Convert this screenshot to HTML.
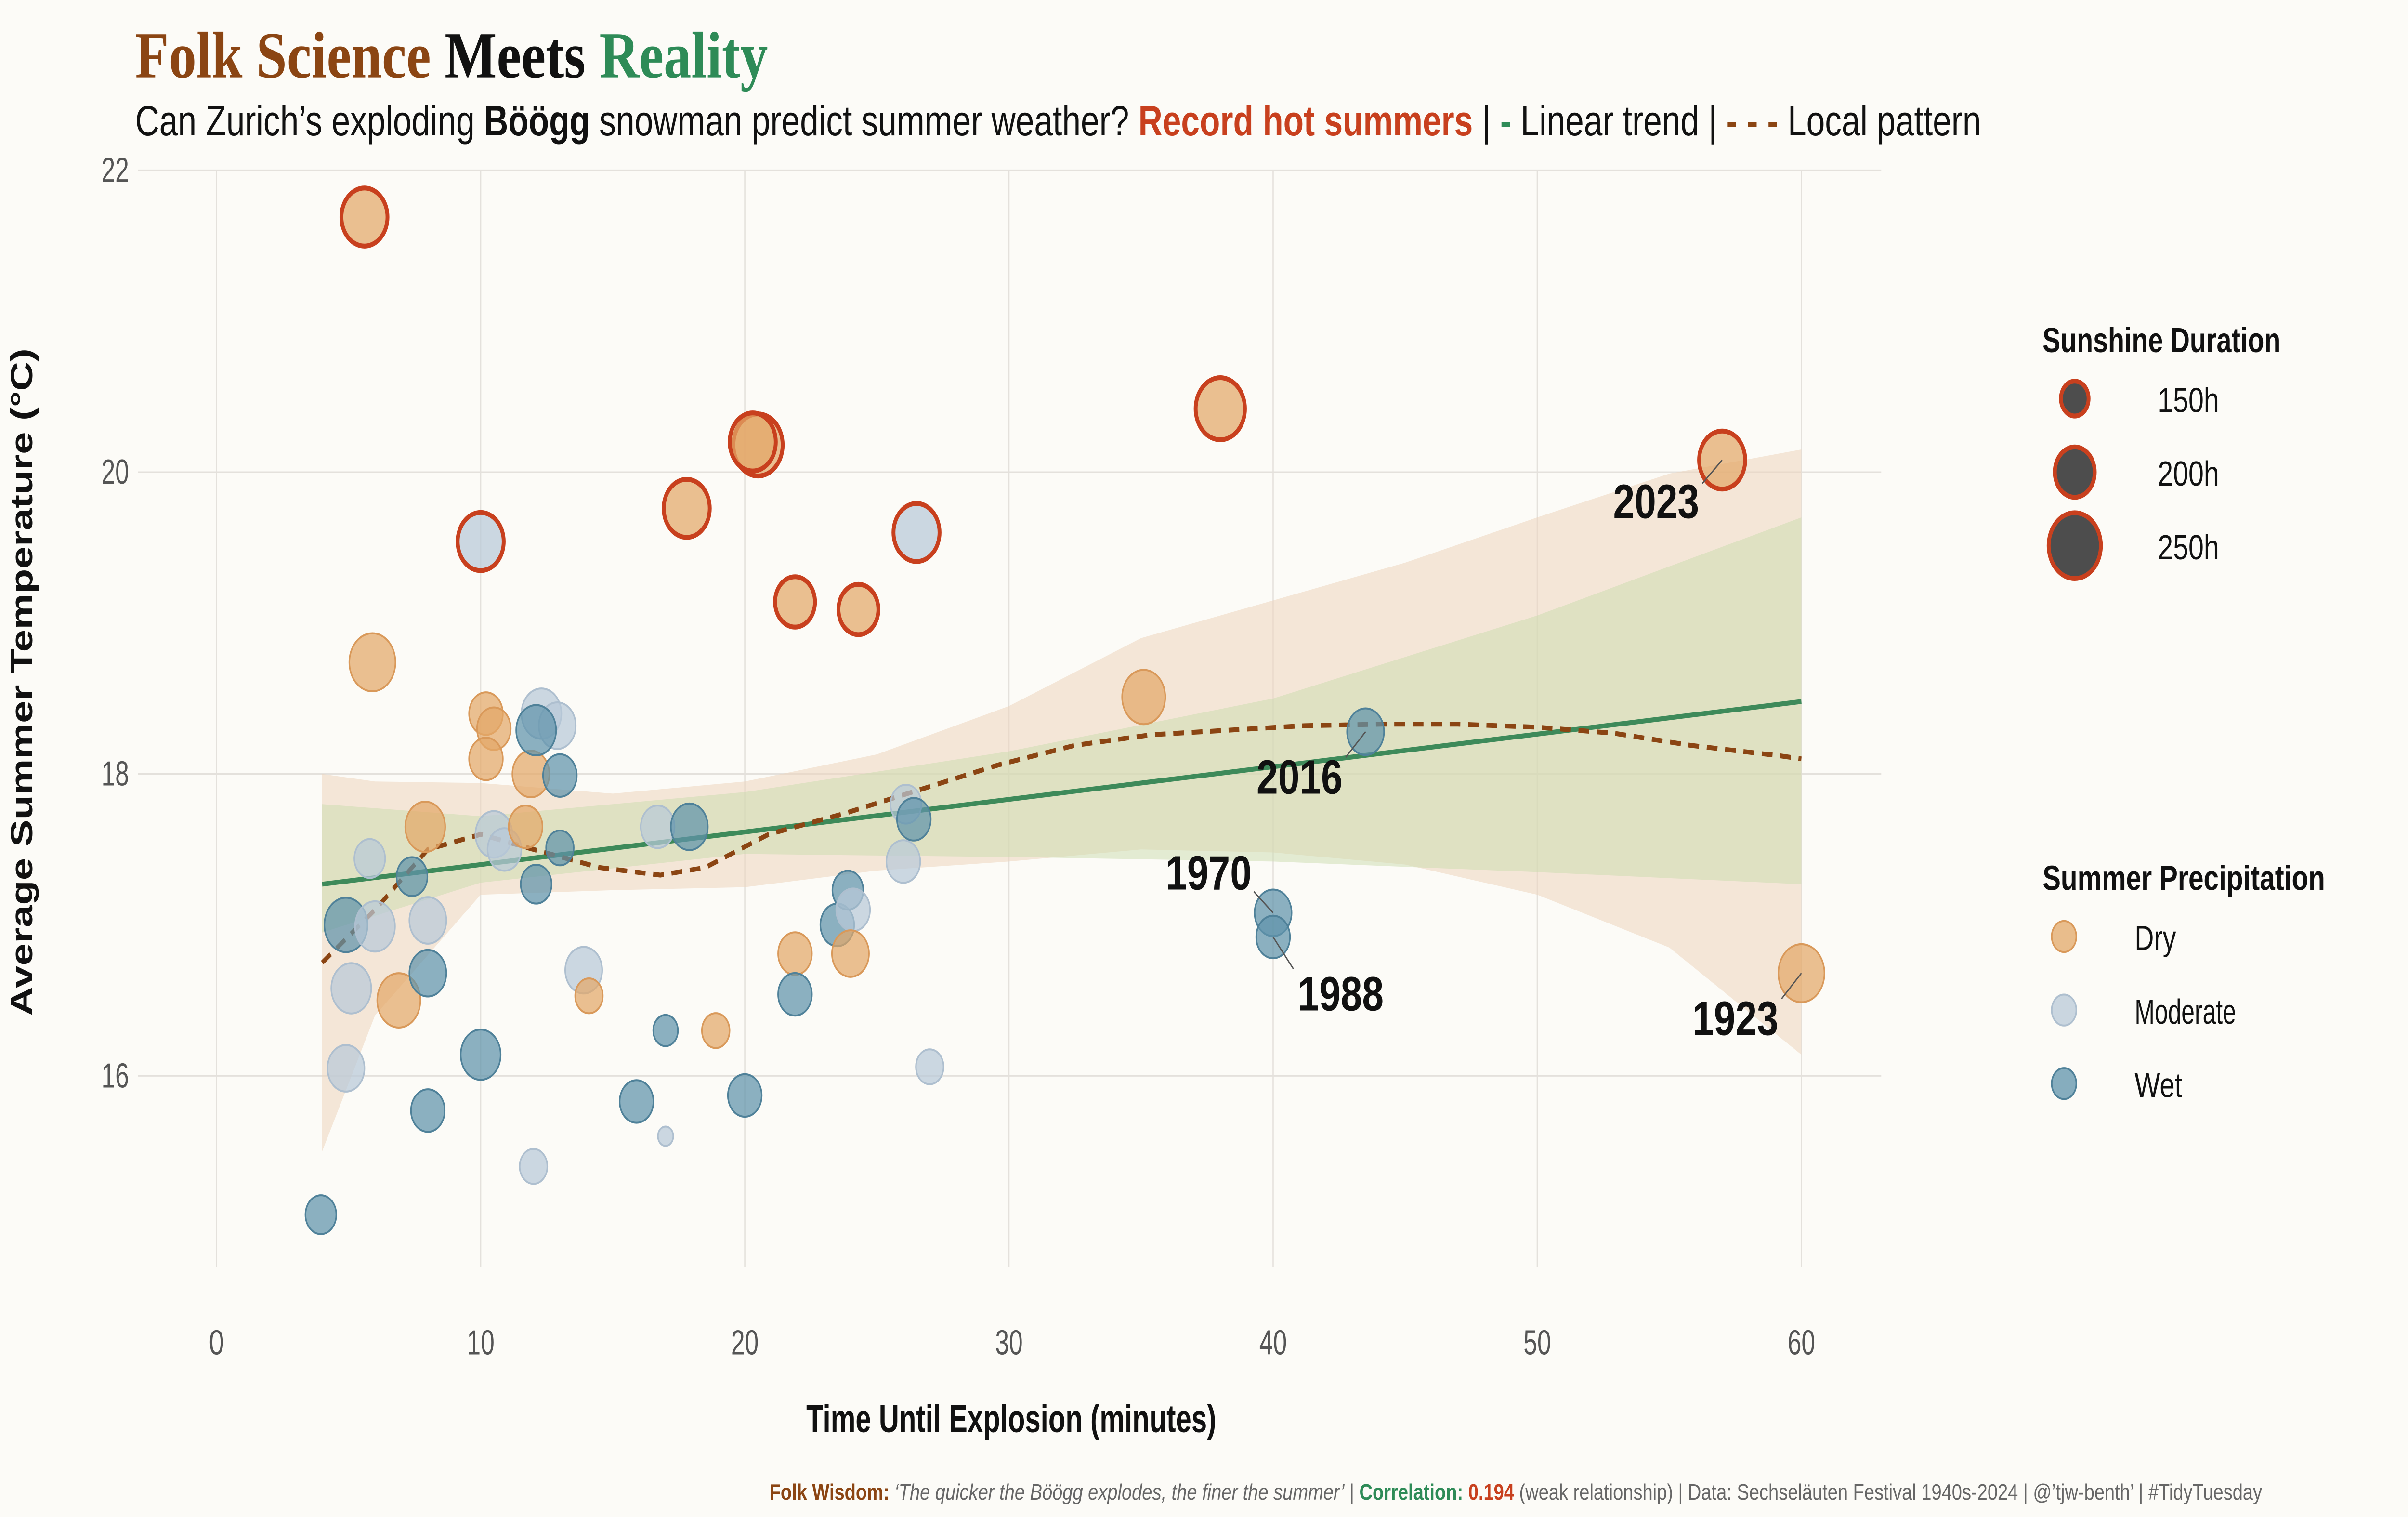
<!DOCTYPE html>
<html><head><meta charset="utf-8">
<style>
html,body{margin:0;padding:0;background:#fcfbf7;width:100vw;height:100vh;overflow:hidden;}
svg{display:block;width:100vw;height:100vh;}
text{font-family:"Liberation Sans Narrow","Liberation Sans",sans-serif;}
</style></head>
<body>
<svg id="chart" xmlns="http://www.w3.org/2000/svg" width="100%" height="100%" viewBox="0 0 1568 784" preserveAspectRatio="none">
<rect x="0" y="0" width="1568" height="784" fill="#fcfbf7"/>
<text x="88" y="40" font-weight="bold" font-size="34" textLength="412" lengthAdjust="spacingAndGlyphs" style="font-family:'Liberation Serif',serif"><tspan fill="#8b4513">Folk Science</tspan><tspan fill="#111"> Meets </tspan><tspan fill="#2e8b57">Reality</tspan></text>
<text x="88" y="70" font-size="22" fill="#111" textLength="1202" lengthAdjust="spacingAndGlyphs">Can Zurich’s exploding <tspan font-weight="bold">Böögg</tspan> snowman predict summer weather? <tspan font-weight="bold" fill="#c8401e">Record hot summers</tspan> | <tspan fill="#2e8b57" font-weight="bold">-</tspan> Linear trend | <tspan fill="#8b4513" font-weight="bold">- - -</tspan> Local pattern</text>
<g id="grid"></g>
<g id="bands"></g>
<g id="lines"></g>
<g id="points"></g>
<g id="annots"></g>
<g id="axes"></g>
<text x="525" y="740" font-size="20" font-weight="bold" fill="#111" textLength="267" lengthAdjust="spacingAndGlyphs">Time Until Explosion (minutes)</text>
<text transform="translate(21,525) rotate(-90)" font-size="20" font-weight="bold" fill="#111" textLength="345" lengthAdjust="spacingAndGlyphs">Average Summer Temperature (°C)</text>
<g>
<text x="1330" y="182" font-size="18" font-weight="bold" fill="#111" textLength="155" lengthAdjust="spacingAndGlyphs">Sunshine Duration</text>
<circle cx="1351" cy="206" r="9" fill="#4d4d4d" stroke="#c8401e" stroke-width="2.5"/>
<text x="1405" y="213" font-size="18" fill="#111" textLength="40" lengthAdjust="spacingAndGlyphs">150h</text>
<circle cx="1351" cy="244" r="13" fill="#4d4d4d" stroke="#c8401e" stroke-width="2.5"/>
<text x="1405" y="251" font-size="18" fill="#111" textLength="40" lengthAdjust="spacingAndGlyphs">200h</text>
<circle cx="1351" cy="282" r="17" fill="#4d4d4d" stroke="#c8401e" stroke-width="2.5"/>
<text x="1405" y="289" font-size="18" fill="#111" textLength="40" lengthAdjust="spacingAndGlyphs">250h</text>
</g>
<g>
<text x="1330" y="460" font-size="18" font-weight="bold" fill="#111" textLength="184" lengthAdjust="spacingAndGlyphs">Summer Precipitation</text>
<circle cx="1344" cy="484" r="8" fill="#e3a868" fill-opacity="0.75" stroke="#d9995a"/>
<text x="1390" y="491" font-size="18" fill="#111" textLength="27" lengthAdjust="spacingAndGlyphs">Dry</text>
<circle cx="1344" cy="522" r="8" fill="#b9c9d8" fill-opacity="0.75" stroke="#aebfcf"/>
<text x="1390" y="529" font-size="18" fill="#111" textLength="66" lengthAdjust="spacingAndGlyphs">Moderate</text>
<circle cx="1344" cy="560" r="8" fill="#5f93ab" fill-opacity="0.75" stroke="#4f8199"/>
<text x="1390" y="567" font-size="18" fill="#111" textLength="31" lengthAdjust="spacingAndGlyphs">Wet</text>
</g>
<text x="501" y="775" font-size="11.5" fill="#666" textLength="972" lengthAdjust="spacingAndGlyphs"><tspan fill="#8b4513" font-weight="bold">Folk Wisdom: </tspan> <tspan font-style="italic">‘The quicker the Böögg explodes, the finer the summer’</tspan> | <tspan fill="#2e8b57" font-weight="bold">Correlation: </tspan> <tspan fill="#c8401e" font-weight="bold">0.194</tspan> (weak relationship) | Data: Sechseläuten Festival 1940s-2024 | @’tjw-benth’ | #TidyTuesday</text>
</svg>
<script>
const xTicks=[0,10,20,30,40,50,60];
const yTicks=[16,18,20,22];
const minutes=[5.6,10,17.8,20.5,20.3,21.9,24.3,26.5,38,57,5.9,5.8,4.9,6.0,5.1,4.9,3.95,6.9,7.4,7.9,8.0,8.0,8.0,10,10.2,10.5,10.2,10.5,10.9,11.9,11.7,12.3,12.9,12.1,13,13,12.1,13.9,14.1,12,15.9,17,17,16.7,17.9,18.9,20,21.9,21.9,23.5,23.9,24.1,24,26.1,26.0,26.4,27,35.1,40,40,43.5,60];
const temps=[21.69,19.54,19.76,20.18,20.2,19.14,19.09,19.6,20.42,20.08,18.74,17.44,17.0,16.99,16.58,16.05,15.08,16.5,17.32,17.65,17.03,16.68,15.77,16.14,18.4,18.3,18.1,17.6,17.5,18.0,17.65,18.4,18.32,18.29,17.99,17.51,17.27,16.7,16.53,15.4,15.83,16.3,15.6,17.65,17.65,16.3,15.87,16.81,16.54,17.0,17.23,17.1,16.81,17.8,17.42,17.7,16.06,18.51,17.08,16.92,18.28,16.68];
const sunshine=[225,225,225,238,225,200,200,225,238,225,225,163,213,200,200,188,163,213,163,200,188,188,175,200,175,175,175,188,175,188,175,200,188,200,175,150,163,188,150,150,175,138,100,175,188,150,175,175,175,175,163,175,188,163,175,175,150,213,188,175,188,225];
const precip=["dry","moderate","dry","dry","dry","dry","dry","moderate","dry","dry","dry","moderate","wet","moderate","moderate","moderate","wet","dry","wet","dry","moderate","wet","wet","wet","dry","dry","dry","moderate","moderate","dry","dry","moderate","moderate","wet","wet","wet","wet","moderate","dry","moderate","wet","wet","moderate","moderate","wet","dry","wet","dry","wet","wet","wet","moderate","dry","moderate","moderate","wet","moderate","dry","wet","wet","wet","dry"];
const hot=[1,1,1,1,1,1,1,1,1,1,0,0,0,0,0,0,0,0,0,0,0,0,0,0,0,0,0,0,0,0,0,0,0,0,0,0,0,0,0,0,0,0,0,0,0,0,0,0,0,0,0,0,0,0,0,0,0,0,0,0,0,0];
const trendX=[4,60];
const trendY=[17.27,18.48];
const ciX=[4,10,20,30,40,50,60];
const ciLow=[16.95,17.28,17.47,17.45,17.42,17.35,17.27];
const ciHigh=[17.8,17.72,17.88,18.15,18.5,19.05,19.7];
const loessX=[4,6,8,10,12,14.5,16.8,18.5,20.9,23.8,26.7,29.6,32.5,35.4,38.3,41.2,44.1,47,50,52.9,55.8,59.2,60];
const loessY=[16.75,17.1,17.5,17.6,17.5,17.38,17.33,17.38,17.6,17.74,17.9,18.06,18.19,18.26,18.29,18.32,18.33,18.33,18.31,18.27,18.19,18.12,18.1];
const bandX=[4,6,10,15,20,25,30,35,40,45,50,55,60];
const bandLow=[15.5,16.4,17.2,17.23,17.25,17.36,17.42,17.5,17.48,17.4,17.2,16.85,16.14];
const bandHigh=[18.0,17.95,17.94,17.87,17.95,18.13,18.45,18.9,19.15,19.4,19.7,19.99,20.15];
const labelYears=["2023","2016","1970","1988","1923"];
const labelIdx=[9,60,58,59,61];
const labelDx=[-43,-43,-42,44,-43];
const labelDy=[22,24,-20,30,24];

const NS="http://www.w3.org/2000/svg";
const X=v=>141+v*17.2;
const Y=v=>556-(v-16)*78;
function mk(tag,attrs,parent){const e=document.createElementNS(NS,tag);for(const k in attrs)e.setAttribute(k,attrs[k]);parent.appendChild(e);return e;}
const grid=document.getElementById('grid'),axes=document.getElementById('axes');
xTicks.forEach(t=>{
  const l=mk('line',{x1:X(t),x2:X(t),y1:88,y2:655,stroke:'#e4e1dc','stroke-width':0.8},grid);
  
  
  const tx=mk('text',{x:X(t),y:700,'text-anchor':'middle','font-size':18,fill:'#555'},axes);
  tx.textContent=t;
  if(String(t).length>1){tx.setAttribute('textLength',18);tx.setAttribute('lengthAdjust','spacingAndGlyphs');}
  
  
});
yTicks.forEach(t=>{
  const l=mk('line',{x1:90,x2:1225,y1:Y(t),y2:Y(t),stroke:'#e4e1dc','stroke-width':0.8},grid);
  
  
  const tx=mk('text',{x:84,y:Y(t)+6,'text-anchor':'end','font-size':18,fill:'#555',textLength:18,lengthAdjust:'spacingAndGlyphs'},axes);
  tx.textContent=t;
  
  
});
function bandPath(xs,lo,hi){let d='M'+xs.map((x,i)=>X(x)+','+Y(hi[i])).join('L');d+='L'+xs.map((x,i)=>X(x)+','+Y(lo[i])).reverse().join('L')+'Z';return d;}
const bands=document.getElementById('bands');
const b1=mk('path',{d:bandPath(bandX,bandLow,bandHigh),fill:'#edd5bd','fill-opacity':0.55},bands);


const b2=mk('path',{d:bandPath(ciX,ciLow,ciHigh),fill:'#c9dcae','fill-opacity':0.5},bands);


const lines=document.getElementById('lines');
const tl=mk('line',{x1:X(trendX[0]),y1:Y(trendY[0]),x2:X(trendX[1]),y2:Y(trendY[1]),stroke:'#3e8a5a','stroke-width':2.5},lines);


const pts=document.getElementById('points');
const fills={dry:'#e3a868',moderate:'#b9c9d8',wet:'#5f93ab'};
const strokes={dry:'#d9995a',moderate:'#aebfcf',wet:'#4f8199'};
minutes.forEach((m,i)=>{
  const r=9+(sunshine[i]-150)*0.08;
  const c=mk('circle',{cx:X(m),cy:Y(temps[i]),r:r,fill:fills[precip[i]],'fill-opacity':0.72,stroke:hot[i]?'#c8401e':strokes[precip[i]],'stroke-width':hot[i]?2.5:1},pts);
  
  
});
const ll=mk('path',{d:'M'+loessX.map((x,i)=>X(x)+','+Y(loessY[i])).join('L'),fill:'none',stroke:'#8b4513','stroke-width':2.5,'stroke-dasharray':'7,5'},lines);


const an=document.getElementById('annots');
labelYears.forEach((yr,k)=>{
  const i=labelIdx[k];const px=X(minutes[i]),py=Y(temps[i]);
  const tx=px+labelDx[k],ty=py+labelDy[k];
  const ln=mk('line',{x1:px,y1:py,x2:px+labelDx[k]*0.3,y2:py+labelDy[k]*0.55,stroke:'#555','stroke-width':0.8},an);
  
  
  const t=mk('text',{x:tx-28,y:ty+8,'font-size':25,'font-weight':'bold',fill:'#111',textLength:56,lengthAdjust:'spacingAndGlyphs'},an);
  t.textContent=yr;
  
  
});
</script>
</body></html>
